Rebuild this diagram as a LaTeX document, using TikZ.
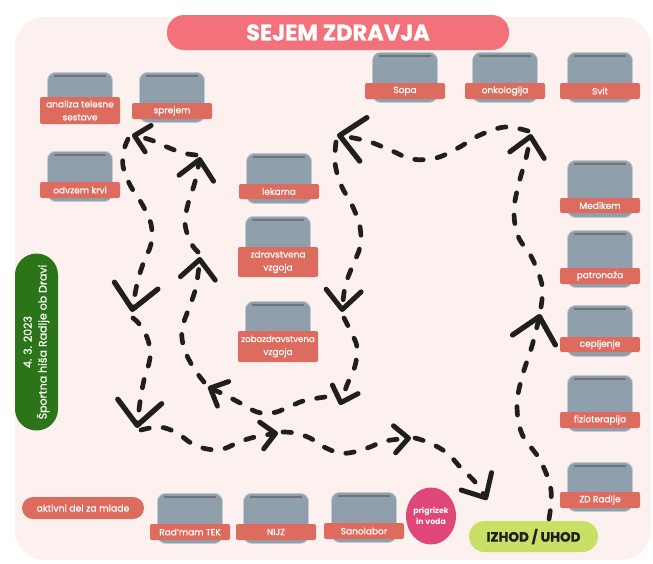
\documentclass[tikz,border=0pt]{standalone}
\usepackage{fontspec}
\setmainfont{Poppins}
\newfontfamily\lblfont{Poppins}[FakeBold=0.6]
\newfontfamily\ttlfont{Poppins}[FakeBold=1.2]
\usetikzlibrary{arrows.meta,shapes.geometric}
\definecolor{bgpink}{HTML}{FDF1EF}
\definecolor{titlepink}{HTML}{F2717A}
\definecolor{boothgray}{HTML}{8FA0AC}
\definecolor{boothline}{HTML}{6F7479}
\definecolor{salmon}{HTML}{DD6B5E}
\definecolor{snack}{HTML}{DF4778}
\definecolor{lime}{HTML}{C9E067}
\definecolor{darkgreen}{HTML}{2C7418}
\definecolor{ink}{HTML}{1F1F1F}
\tikzset{
 graybox/.style={fill=boothgray, draw=boothgray!55!white, line width=0.8pt, rounded corners=8pt, minimum width=65pt, inner sep=0pt},
 topline/.style={draw=boothline, line width=1.3pt},
 lbl/.style={fill=salmon, rounded corners=2pt, minimum width=80pt, inner sep=0pt, text=white, align=center, font=\lblfont\fontsize{9}{13}\selectfont},
 walk/.style={draw=ink, line width=4.7pt, line cap=round, dash pattern=on 8.5pt off 14pt},
 tips/.style={-{Straight Barb[length=14pt,width=27pt,round,line width=5pt]}},
 tipm/.style={-{Straight Barb[length=19pt,width=35pt,round,line width=5pt]}},
 tipl/.style={-{Straight Barb[length=24pt,width=44pt,round,line width=5.3pt]}},
}
\newcommand\booth[6]{%
 \node[graybox, minimum height={#4+19-#3}, anchor=north] (#1g) at (#2,#3) {};
 \draw[topline] ([xshift=7pt,yshift=-4pt]#1g.north west) -- ([xshift=-7pt,yshift=-4pt]#1g.north east);
 \node[lbl, minimum height=#5] (#1) at (#2,{#4+#5/2}) {#6};
}
\begin{document}
\begin{tikzpicture}[x=1pt,y=-1pt]
\useasboundingbox (0,0) rectangle (653,563);
\fill[white] (0,0) rectangle (653,563);
\fill[bgpink, rounded corners=30pt] (15,17) rectangle (651,560);

\node[fill=titlepink, rounded corners=17pt, minimum width=342pt, minimum height=35pt, inner sep=0pt, text=white, font=\ttlfont\fontsize{22.5}{22.5}\bfseries\selectfont] (title) at (338,32.5) {SEJEM ZDRAVJA};

\booth{analiza}{80}{72}{97}{27}{analiza telesne\\sestave}
\booth{sprejem}{172}{72}{103}{16}{sprejem}
\booth{odvzem}{80}{151}{182}{16}{odvzem krvi}
\booth{lekarna}{279}{153}{184}{15}{lekarna}
\booth{zdrav}{278}{216}{247}{30}{zdravstvena\\vzgoja}
\booth{zobo}{278}{301}{331}{31}{\fontsize{8.6}{13}\selectfont zobozdravstvena\\vzgoja}
\booth{sopa}{405}{52}{83}{16}{Sopa}
\booth{onko}{505}{52}{83}{16}{onkologija}
\booth{svit}{600}{52}{83}{16}{Svit}
\booth{medikem}{600}{160}{198}{15}{Medikem}
\booth{patro}{600}{230}{268}{16}{patronaža}
\booth{ceplj}{600}{305}{337}{15}{cepljenje}
\booth{fizio}{600}{375}{412}{16}{fizioterapija}
\booth{zdr}{600}{462}{492}{16}{ZD Radlje}
\booth{tek}{190}{493}{524}{16}{Rad’mam TEK}
\booth{nijz}{276}{493}{524}{16}{NIJZ}
\booth{sano}{364}{492}{523}{16}{Sanolabor}

\node[fill=salmon, rounded corners=11pt, minimum width=122pt, minimum height=22pt, inner sep=0pt, text=white, font=\lblfont\fontsize{9.3}{11}\selectfont] (aktivni) at (83,508) {aktivni del za mlade};
\node[ellipse, fill=snack, minimum width=48pt, minimum height=57pt, inner sep=0pt, text=white, align=center, font=\fontsize{7.8}{11}\bfseries\selectfont] (snackn) at (431,516) {prigrizek\\in voda};
\node[fill=lime, rounded corners=15.5pt, minimum width=129pt, minimum height=31pt, inner sep=0pt, text=ink, font=\ttlfont\fontsize{13.5}{13.5}\bfseries\selectfont] (izhod) at (533.5,536.5) {IZHOD / UHOD};
\node[rotate=90, fill=darkgreen, rounded corners=21.5pt, minimum width=177pt, minimum height=43pt, inner sep=0pt, text=white, align=center, font=\lblfont\fontsize{11}{15}\selectfont] (datum) at (36.5,342) {4. 3. 2023\\Športna hiša Radlje ob Dravi};

\coordinate (p0) at (549,519);
\coordinate (p1) at (540,314);
\coordinate (p2) at (531,134);
\coordinate (p3) at (337,135);
\coordinate (p4) at (342,312);
\coordinate (p5) at (340,405);
\coordinate (p6) at (208,387);
\coordinate (p7) at (200,257);
\coordinate (p8) at (200,157);
\coordinate (p9) at (132,135);
\coordinate (p10) at (132,312);
\coordinate (p11) at (137,428);
\coordinate (p12) at (278,433);
\coordinate (p13) at (411,438);
\coordinate (p14) at (487,500);

\draw[walk,tipl] plot[smooth,tension=0.6] coordinates {(p0) (551,490) (540,460) (522,434) (517,405) (522,377) (532,346) (p1)};
\draw[walk,tipm] plot[smooth,tension=0.6] coordinates {(541,307) (542,285) (532,258) (518,236) (514,210) (519,183) (526,158) (p2)};
\draw[walk,tipl] plot[smooth,tension=0.6] coordinates {(528,131) (505,127) (480,135) (458,148) (436,158) (412,159) (390,150) (367,141) (p3)};
\draw[walk,tipm] plot[smooth,tension=0.6] coordinates {(336,142) (335,163) (341,185) (352,205) (360,227) (360,247) (352,267) (345,287) (p4)};
\draw[walk,tips] plot[smooth,tension=0.6] coordinates {(344,318) (351,332) (357,347) (355,366) (347,385) (p5)};
\draw[walk,tips] plot[smooth,tension=0.6] coordinates {(325,397) (303,401) (287,408) (272,413) (257,412) (242,404) (225,395) (p6)};
\draw[walk,tipm] plot[smooth,tension=0.6] coordinates {(204,382) (193,367) (184,348) (182,329) (189,308) (196,287) (p7)};
\draw[walk,tipm] plot[smooth,tension=0.6] coordinates {(198,252) (191,243) (185,224) (188,204) (195,182) (p8)};
\draw[walk,tips] plot[smooth,tension=0.6] coordinates {(196,155) (183,153) (167,147) (151,140) (p9)};
\draw[walk,tipl] plot[smooth,tension=0.6] coordinates {(128,139) (124,150) (123,166) (130,185) (142,204) (151,224) (151,244) (143,264) (137,284) (p10)};
\draw[walk,tipl] plot[smooth,tension=0.6] coordinates {(133,318) (140,325) (148,340) (150,358) (144,380) (140,402) (p11)};
\draw[walk,tips] plot[smooth,tension=0.6] coordinates {(141,430) (160,427) (177,433) (191,443) (207,449) (223,449) (239,442) (255,437) (p12)};
\draw[walk,tips] plot[smooth,tension=0.6] coordinates {(283,432) (295,433) (310,438) (324,447) (340,453) (354,452) (370,447) (385,441) (p13)};
\draw[walk,tipm] plot[smooth,tension=0.6] coordinates {(415,438) (430,443) (447,453) (461,468) (476,483) (p14)};
\end{tikzpicture}
\end{document}
